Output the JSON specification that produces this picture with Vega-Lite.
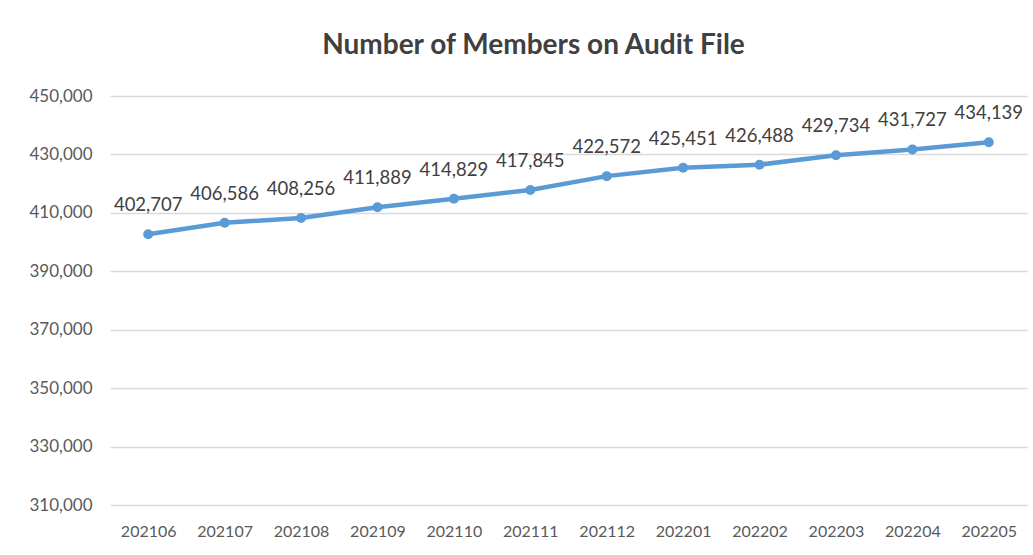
{
  "$schema": "https://vega.github.io/schema/vega-lite/v6.json",
  "width": 917,
  "height": 409,
  "autosize": {"type": "none"},
  "padding": {"left": 110, "top": 96, "right": 6, "bottom": 50},
  "background": "white",
  "title": {
    "text": "Number of Members on Audit File",
    "anchor": "middle",
    "font": "Lato",
    "fontSize": 28,
    "fontWeight": "bold",
    "color": "#404040",
    "dx": -35,
    "offset": 27
  },
  "config": {"view": {"stroke": null}},
  "data": {
    "values": [
      {"month": "202106", "members": 402707},
      {"month": "202107", "members": 406586},
      {"month": "202108", "members": 408256},
      {"month": "202109", "members": 411889},
      {"month": "202110", "members": 414829},
      {"month": "202111", "members": 417845},
      {"month": "202112", "members": 422572},
      {"month": "202201", "members": 425451},
      {"month": "202202", "members": 426488},
      {"month": "202203", "members": 429734},
      {"month": "202204", "members": 431727},
      {"month": "202205", "members": 434139}
    ]
  },
  "encoding": {
    "x": {
      "field": "month",
      "type": "ordinal",
      "axis": {
        "title": null,
        "labelAngle": 0,
        "ticks": false,
        "domain": false,
        "labelFont": "Lato",
        "labelFontSize": 16,
        "labelColor": "#595959",
        "labelPadding": 18
      }
    },
    "y": {
      "field": "members",
      "type": "quantitative",
      "scale": {"domain": [310000, 450000], "nice": false, "zero": false},
      "axis": {
        "title": null,
        "values": [310000, 330000, 350000, 370000, 390000, 410000, 430000, 450000],
        "labelExpr": "format(datum.value, ',')",
        "ticks": false,
        "domain": false,
        "gridColor": "#d9d9d9",
        "gridWidth": 1.5,
        "labelFont": "Lato",
        "labelFontSize": 17,
        "labelColor": "#595959",
        "labelPadding": 18
      }
    }
  },
  "layer": [
    {
      "mark": {"type": "line", "color": "#5B9BD5", "strokeWidth": 4.5, "point": {"filled": true, "size": 100, "color": "#5B9BD5"}}
    },
    {
      "mark": {"type": "text", "dy": -29, "font": "Lato", "fontSize": 18.5, "color": "#404040"},
      "encoding": {"text": {"field": "members", "type": "quantitative", "format": ","}}
    }
  ]
}
